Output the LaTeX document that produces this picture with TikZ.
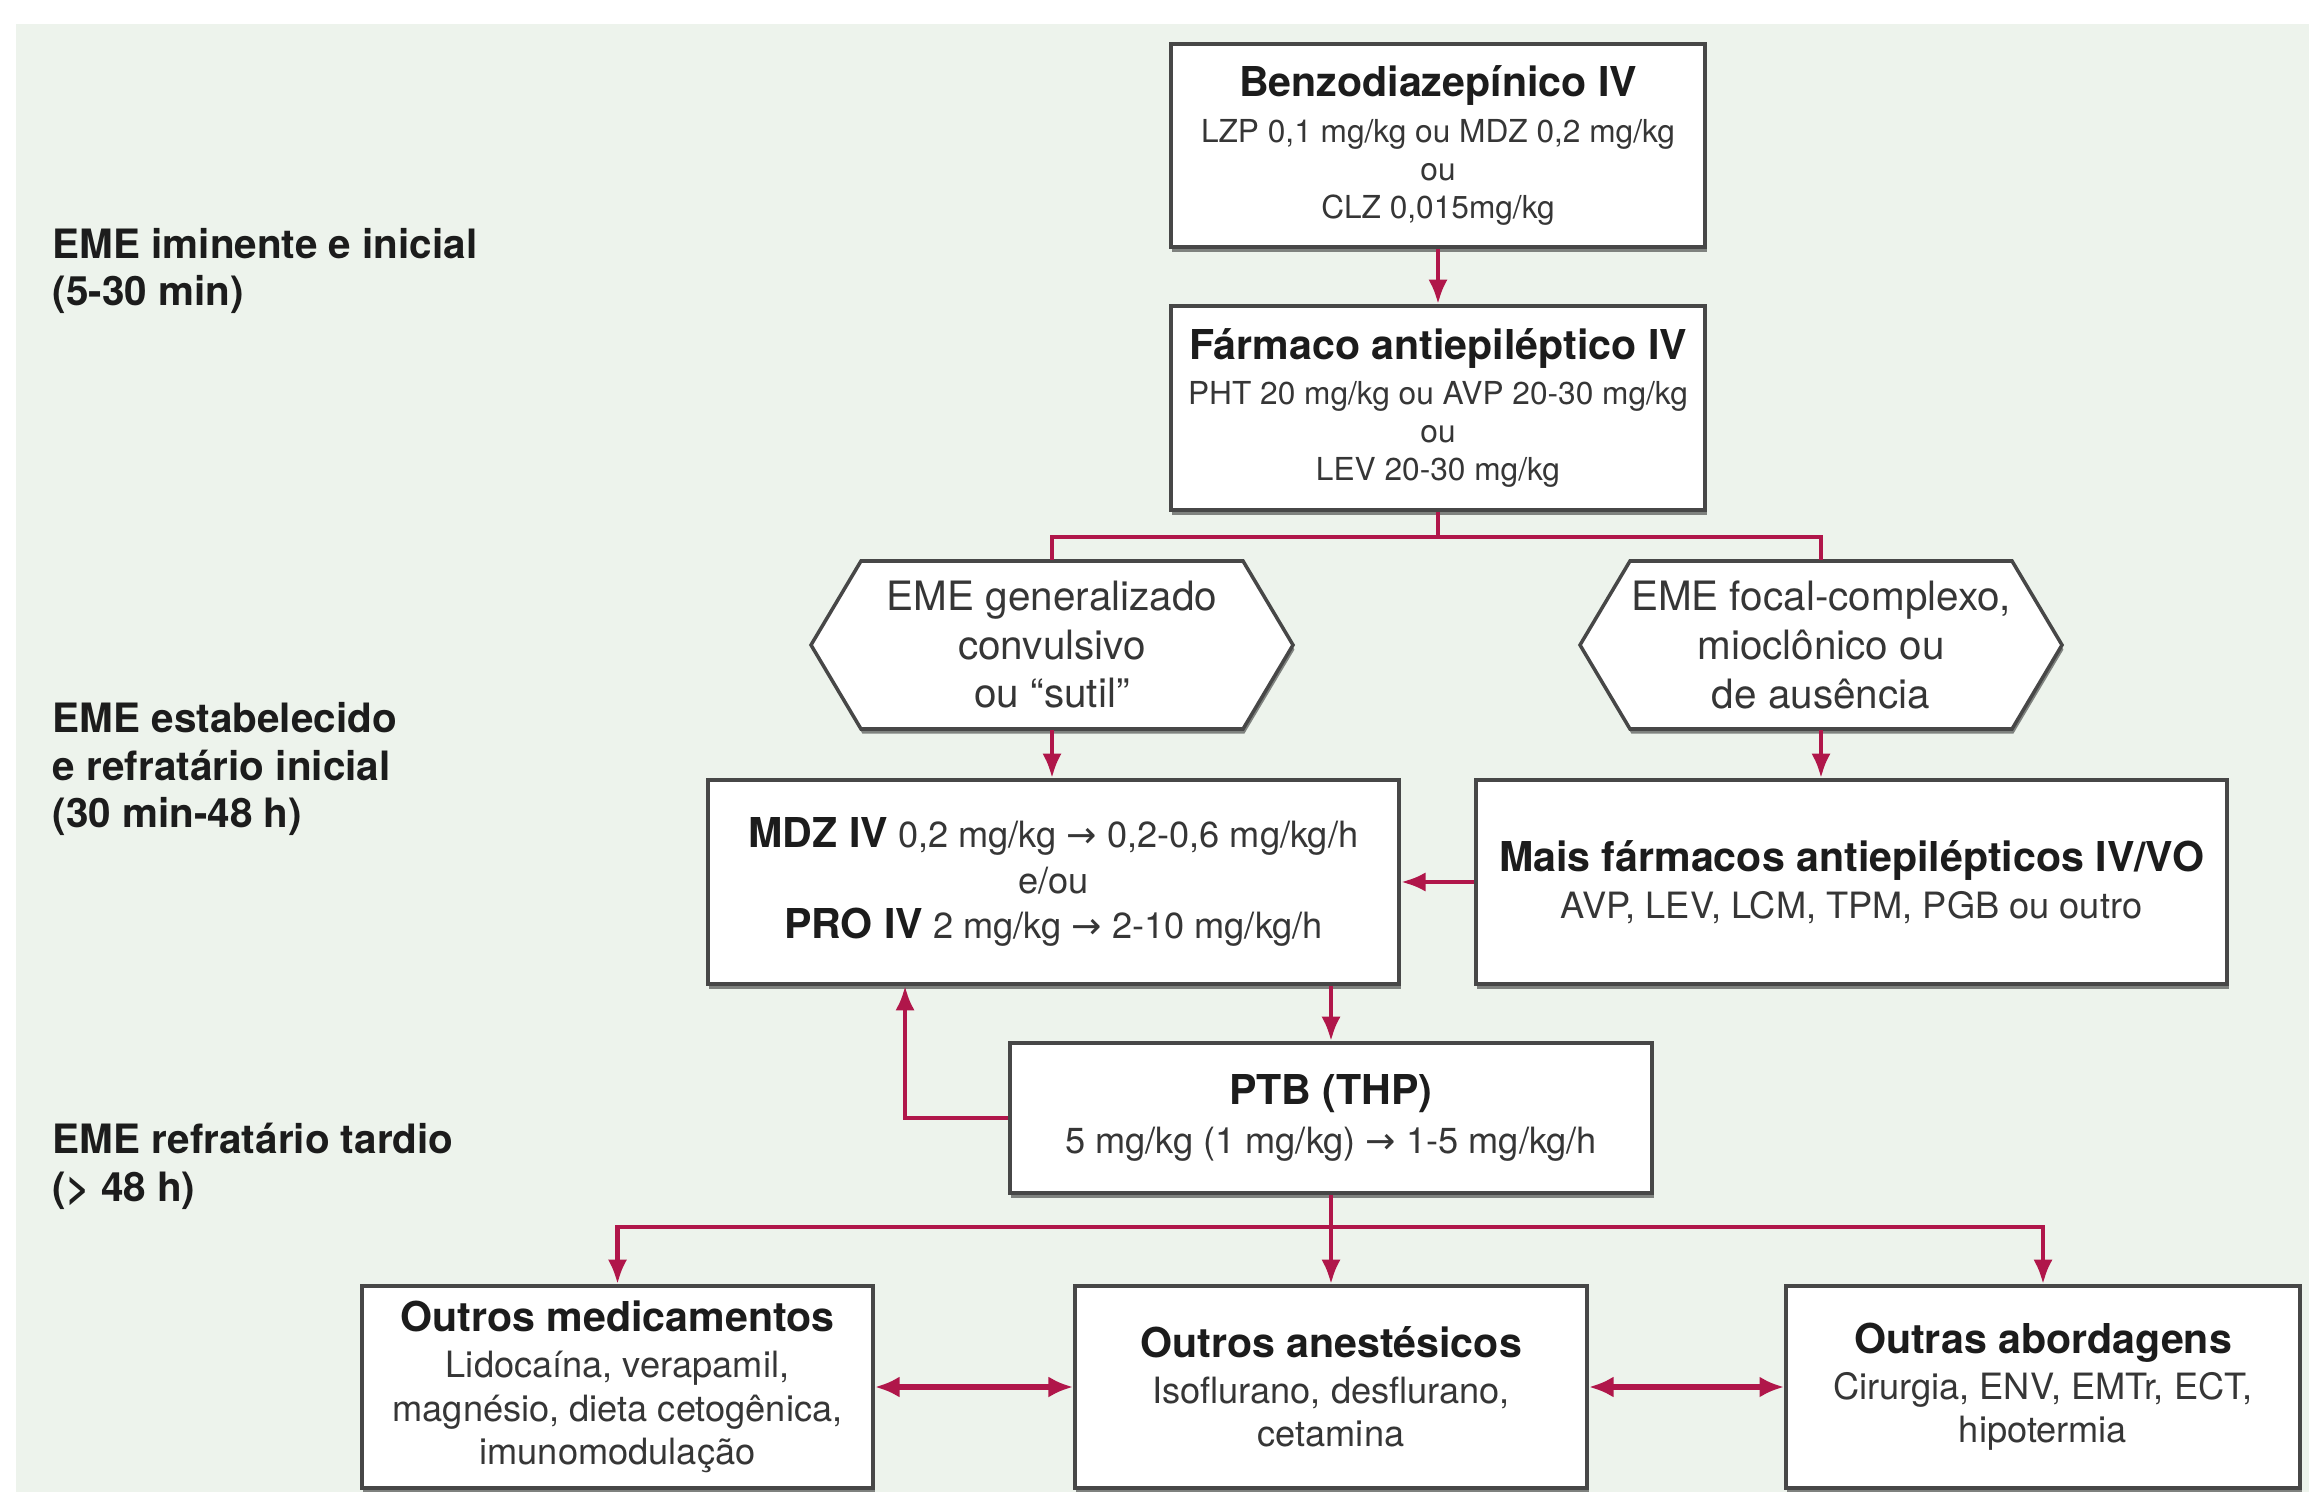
\documentclass[tikz,border=0pt]{standalone}
\usepackage{fontspec}
\setmainfont{TeX Gyre Heros}
\newfontfamily\symfont{DejaVu Sans}
\usetikzlibrary{arrows.meta,calc,shadows}

\definecolor{pagebg}{HTML}{EDF3EC}
\definecolor{linkred}{HTML}{B0164A}
\definecolor{frame}{HTML}{474747}
\definecolor{ink}{HTML}{1C1C1C}
\definecolor{inksoft}{HTML}{363636}

\newcommand{\boxtitle}[1]{{\fontsize{11.7pt}{14pt}\selectfont\bfseries\color{ink}#1}}
\newcommand{\rarr}{{\symfont →}}

\tikzset{
  boxshadow/.style={drop shadow={shadow xshift=0.4pt, shadow yshift=-1.3pt, opacity=0.55, fill=black!85}},
  box/.style={draw=frame, line width=1pt, fill=white, inner sep=0pt, align=center,
              text=inksoft, boxshadow},
  topsub/.style={font=\fontsize{9pt}{10.8pt}\selectfont},
  lowsub/.style={font=\fontsize{10.3pt}{12.3pt}\selectfont},
  hexfill/.style={draw=frame, line width=1pt, fill=white, boxshadow},
  hexlabel/.style={inner sep=0pt, align=center, text=inksoft,
                   font=\fontsize{11.5pt}{13.8pt}\selectfont},
  link/.style={draw=linkred, line width=1.3pt},
  tip/.style={-{Latex[length=7pt,width=5.5pt]}},
  bothtips/.style={{Latex[length=7pt,width=6pt]}-{Latex[length=7pt,width=6pt]}, line width=1.8pt},
  phase/.style={anchor=west, align=left, inner sep=0pt, text=ink,
                font=\fontsize{11.5pt}{13.6pt}\selectfont\bfseries},
}

\begin{document}
\begin{tikzpicture}[x=0.01cm, y=-0.01cm]
  % page and tinted panel
  \useasboundingbox (0,0) rectangle (2309,1492);
  \fill[white] (0,0) rectangle (2309,1492);
  \fill[pagebg] (16,24) rectangle (2309,1492);

  % phase labels on the left
  \node[phase] (ph1) at (52,271) {EME iminente e inicial\\(5-30 min)};
  \node[phase] (ph2) at (52,769) {EME estabelecido\\e refratário inicial\\(30 min-48 h)};
  \node[phase] (ph3) at (52,1166) {EME refratário tardio\\(> 48 h)};

  % first-line treatment
  \node[box, topsub, minimum width=5.34cm, minimum height=2.03cm] (benzo) at (1438,145.5)
    {\boxtitle{Benzodiazepínico IV}\\[2.2pt]
     LZP 0,1 mg/kg ou MDZ 0,2 mg/kg\\ ou\\ CLZ 0,015mg/kg};
  \node[box, topsub, minimum width=5.34cm, minimum height=2.04cm] (farm) at (1438,408)
    {\boxtitle{Fármaco antiepiléptico IV}\\[2.2pt]
     PHT 20 mg/kg ou AVP 20-30 mg/kg\\ ou\\ LEV 20-30 mg/kg};

  % decision hexagons
  \coordinate (hl) at (1052,645);
  \coordinate (hr) at (1821,645);
  \path[hexfill] ($(hl)+(-191,-84)$) -- ($(hl)+(191,-84)$) -- ($(hl)+(241,0)$)
    -- ($(hl)+(191,84)$) -- ($(hl)+(-191,84)$) -- ($(hl)+(-241,0)$) -- cycle;
  \path[hexfill] ($(hr)+(-191,-84)$) -- ($(hr)+(191,-84)$) -- ($(hr)+(241,0)$)
    -- ($(hr)+(191,84)$) -- ($(hr)+(-191,84)$) -- ($(hr)+(-241,0)$) -- cycle;
  \node[hexlabel, minimum width=3.82cm, minimum height=1.68cm] (hexL) at (hl)
    {EME generalizado\\convulsivo\\ou “sutil”};
  \node[hexlabel, minimum width=3.82cm, minimum height=1.68cm] (hexR) at (hr)
    {EME focal-complexo,\\mioclônico ou\\de ausência};

  % established / early refractory
  \node[box, lowsub, minimum width=6.91cm, minimum height=2.04cm,
        font=\fontsize{10.3pt}{13pt}\selectfont] (mdz) at (1053.5,882)
    {\boxtitle{MDZ IV} 0,2 mg/kg \rarr{} 0,2-0,6 mg/kg/h\\ e/ou\\
     \boxtitle{PRO IV} 2 mg/kg \rarr{} 2-10 mg/kg/h};
  \node[box, lowsub, minimum width=7.51cm, minimum height=2.04cm] (mais) at (1851.5,882)
    {\boxtitle{Mais fármacos antiepilépticos IV/VO}\\[1pt]
     AVP, LEV, LCM, TPM, PGB ou outro};

  % barbiturate
  \node[box, lowsub, minimum width=6.42cm, minimum height=1.50cm] (ptb) at (1331,1118)
    {\boxtitle{PTB (THP)}\\[1.5pt] 5 mg/kg (1 mg/kg) \rarr{} 1-5 mg/kg/h};

  % late refractory options
  \node[box, lowsub, minimum width=5.11cm, minimum height=2.02cm] (om) at (617.5,1387)
    {\boxtitle{Outros medicamentos}\\[0.8pt] Lidocaína, verapamil,\\
     magnésio, dieta cetogênica,\\ imunomodulação};
  \node[box, lowsub, minimum width=5.12cm, minimum height=2.02cm] (oa) at (1331,1387)
    {\boxtitle{Outros anestésicos}\\[0.8pt] Isoflurano, desflurano,\\ cetamina};
  \node[box, lowsub, minimum width=5.14cm, minimum height=2.02cm] (oab) at (2043,1387)
    {\boxtitle{Outras abordagens}\\[0.8pt] Cirurgia, ENV, EMTr, ECT,\\ hipotermia};

  % connectors
  \coordinate (split1) at (1438,537);
  \coordinate (split2) at (1331,1227);
  \coordinate (loopback) at ($(mdz.south west)+(199,0)$);

  \draw[link,tip] (benzo.south) -- (farm.north);
  \draw[link] (farm.south) -- (split1);
  \draw[link] (split1) -| (hexL.north);
  \draw[link] (split1) -| (hexR.north);
  \draw[link,tip] (hexL.south) -- (hexL.south |- mdz.north);
  \draw[link,tip] (hexR.south) -- (hexR.south |- mais.north);
  \draw[link,tip] (mais.west) -- (mdz.east);
  \draw[link,tip] (ptb.north |- mdz.south) -- (ptb.north);
  \draw[link,tip] (ptb.west) -| (loopback);
  \draw[link] (ptb.south) -- (split2);
  \draw[link,tip] (split2) -| (om.north);
  \draw[link,tip] (split2) -- (oa.north);
  \draw[link,tip] (split2) -| (oab.north);
  \draw[link,bothtips] (om.east) -- (oa.west);
  \draw[link,bothtips] (oa.east) -- (oab.west);
\end{tikzpicture}
\end{document}
